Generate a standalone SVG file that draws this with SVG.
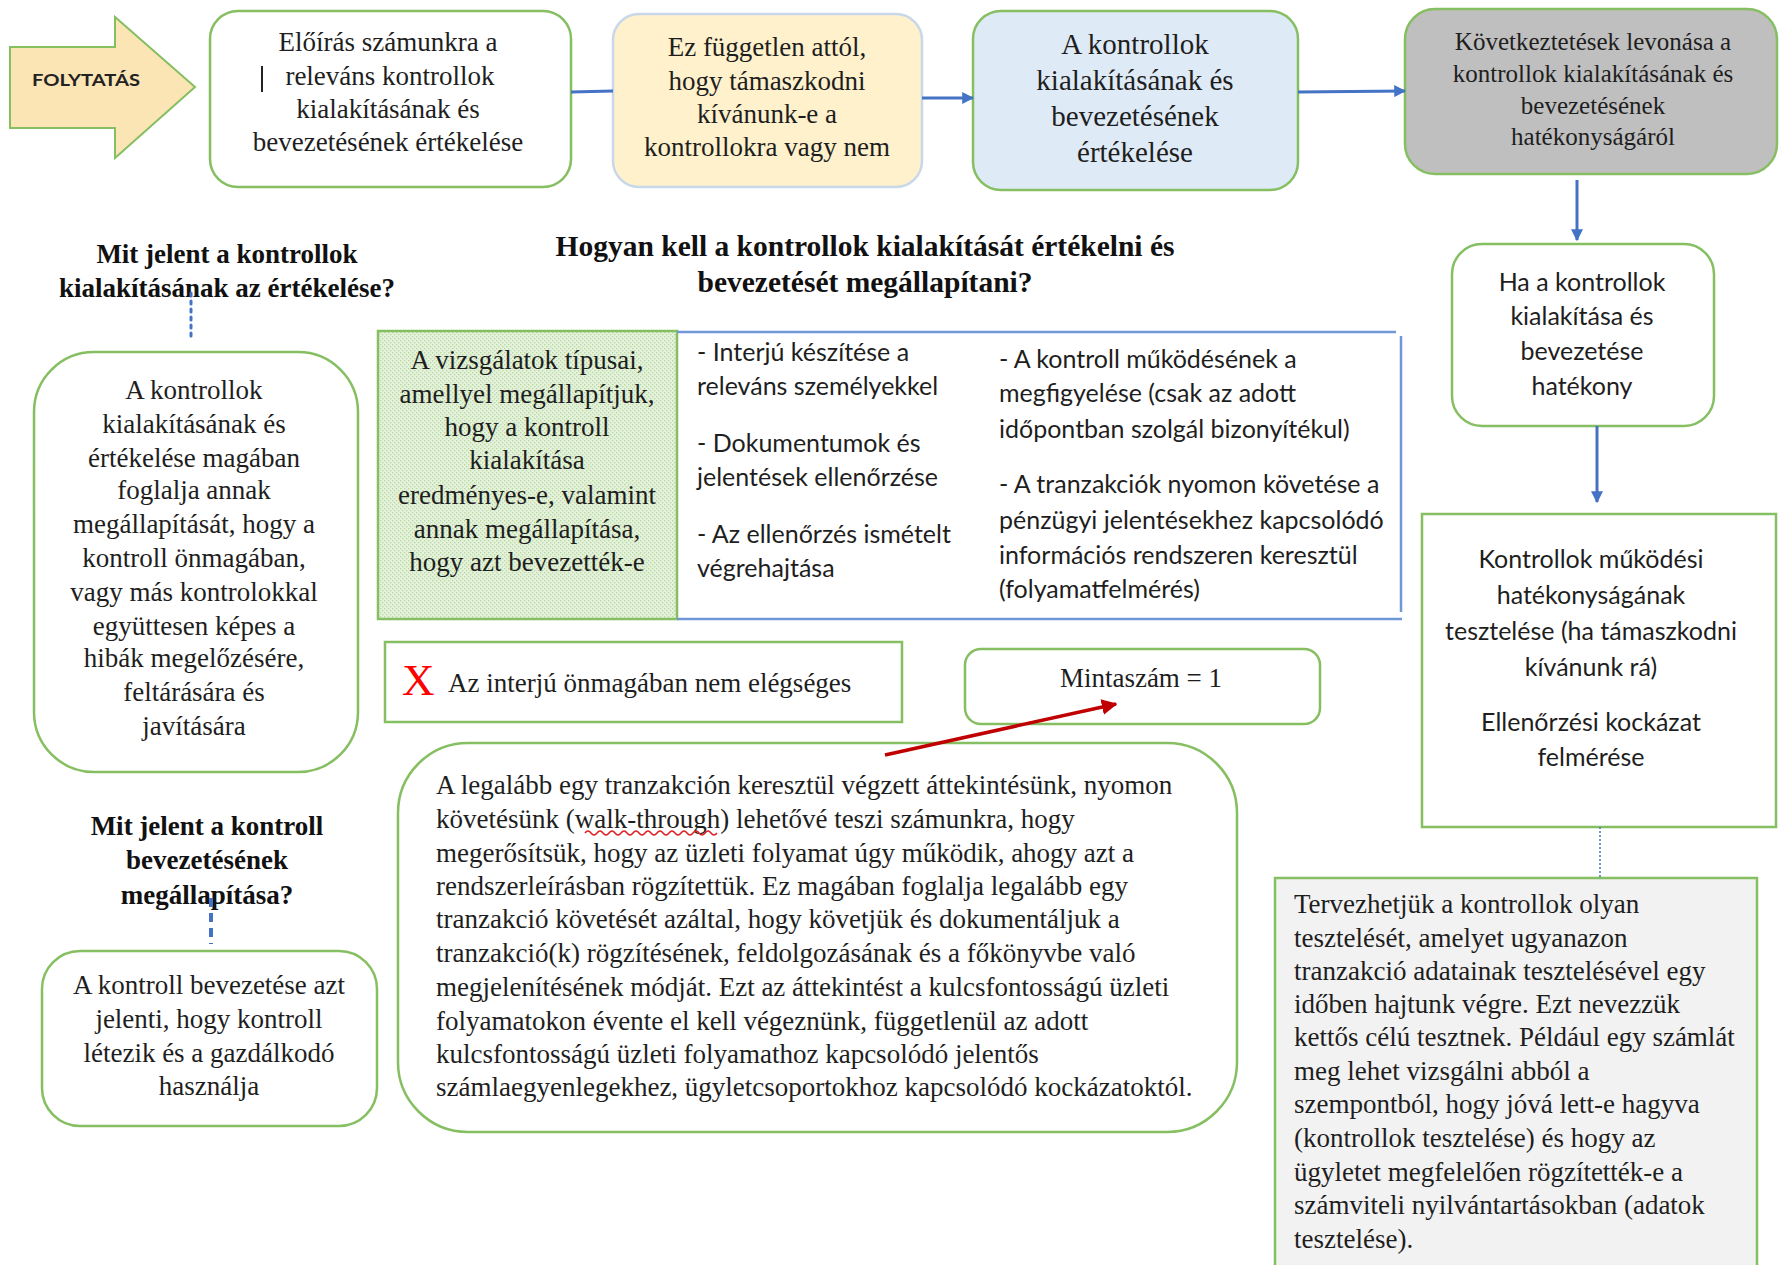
<svg xmlns="http://www.w3.org/2000/svg" width="1780" height="1265" viewBox="0 0 1780 1265">
  <defs>
    <style>
      .box { stroke: #86bf62; stroke-width: 2.5; }
      .sr { font-family: "Liberation Serif", "Times New Roman", serif; font-size: 27px; fill: #1e1e1e; }
      .sb { font-family: "Liberation Serif", "Times New Roman", serif; font-size: 27px; font-weight: bold; fill: #111; }
      .ss { font-family: Lato, "Liberation Sans", sans-serif; font-size: 25px; fill: #1e1e1e; }
      .mid { text-anchor: middle; }
      .conn { stroke: #4472c4; stroke-width: 3; fill: none; }
    </style>
    <marker id="ah" viewBox="0 0 10 10" refX="9" refY="5" markerWidth="4" markerHeight="4" orient="auto">
      <path d="M0,0 L10,5 L0,10 Z" fill="#4472c4"/>
    </marker>
    <marker id="ahRed" viewBox="0 0 10 10" refX="9" refY="5" markerWidth="4.5" markerHeight="4.5" orient="auto">
      <path d="M0,0 L10,5 L0,10 Z" fill="#c00000"/>
    </marker>
    <pattern id="hatch" width="4" height="4" patternUnits="userSpaceOnUse">
      <rect width="4" height="4" fill="#e4f1db"/>
      <rect x="0" y="0" width="1.3" height="1.3" fill="#b7d8a0"/>
      <rect x="2" y="2" width="1.3" height="1.3" fill="#b7d8a0"/>
    </pattern>
  </defs>

  <rect width="1780" height="1265" fill="#ffffff"/>

  <!-- start arrow -->
  <g id="folytatas">
    <path d="M10,47 L115,47 L115,17 L195,87 L115,158 L115,128 L10,128 Z" fill="#fce5b5" stroke="#86bf62" stroke-width="2"/>
    <text x="32" y="86" font-family="Lato, 'Liberation Sans', sans-serif" font-size="17" font-weight="bold" fill="#222" textLength="108" lengthAdjust="spacingAndGlyphs">FOLYTATÁS</text>
  </g>

  <g id="box-eloiras">
    <rect class="box" x="210" y="11" width="361" height="176" rx="28" fill="#ffffff"/>
    <line x1="262" y1="66" x2="262" y2="92" stroke="#222" stroke-width="2"/>
    <text class="sr mid" x="388" y="51">Előírás számunkra a</text>
    <text class="sr mid" x="390" y="85">releváns kontrollok</text>
    <text class="sr mid" x="388" y="118">kialakításának és</text>
    <text class="sr mid" x="388" y="151">bevezetésének értékelése</text>
  </g>

  <g id="box-fuggetlen">
    <rect x="613" y="14" width="309" height="173" rx="26" fill="#fff1cb" stroke="#c9d7ea" stroke-width="2.5"/>
    <text class="sr mid" x="767" y="56">Ez független attól,</text>
    <text class="sr mid" x="767" y="90">hogy támaszkodni</text>
    <text class="sr mid" x="767" y="123">kívánunk-e a</text>
    <text class="sr mid" x="767" y="156">kontrollokra vagy nem</text>
  </g>

  <g id="box-ertekeles">
    <rect class="box" x="973" y="11" width="325" height="179" rx="28" fill="#deeaf6"/>
    <text class="sr mid" style="font-size:29px" x="1135" y="54">A kontrollok</text>
    <text class="sr mid" style="font-size:29px" x="1135" y="90">kialakításának és</text>
    <text class="sr mid" style="font-size:29px" x="1135" y="126">bevezetésének</text>
    <text class="sr mid" style="font-size:29px" x="1135" y="162">értékelése</text>
  </g>

  <g id="box-kovetkeztetesek">
    <rect class="box" x="1405" y="9" width="372" height="165" rx="30" fill="#bfbfbf"/>
    <text class="sr mid" style="font-size:25px" x="1593" y="50">Következtetések levonása a</text>
    <text class="sr mid" style="font-size:25px" x="1593" y="82">kontrollok kialakításának és</text>
    <text class="sr mid" style="font-size:25px" x="1593" y="114">bevezetésének</text>
    <text class="sr mid" style="font-size:25px" x="1593" y="145">hatékonyságáról</text>
  </g>

  <g id="box-hatekony">
    <rect class="box" x="1452" y="244" width="262" height="182" rx="30" fill="#ffffff"/>
    <text class="ss mid" x="1582" y="291">Ha a kontrollok</text>
    <text class="ss mid" x="1582" y="325">kialakítása és</text>
    <text class="ss mid" x="1582" y="360">bevezetése</text>
    <text class="ss mid" x="1582" y="395">hatékony</text>
  </g>

  <g id="box-mukodesi">
    <rect class="box" x="1422" y="514" width="354" height="313" fill="#ffffff"/>
    <text class="ss mid" x="1591" y="568">Kontrollok működési</text>
    <text class="ss mid" x="1591" y="604">hatékonyságának</text>
    <text class="ss mid" x="1591" y="640">tesztelése (ha támaszkodni</text>
    <text class="ss mid" x="1591" y="676">kívánunk rá)</text>
    <text class="ss mid" x="1591" y="731">Ellenőrzési kockázat</text>
    <text class="ss mid" x="1591" y="766">felmérése</text>
  </g>

  <g id="box-kettos-celu">
    <rect class="box" x="1275" y="878" width="482" height="400" fill="#f2f2f2"/>
    <text class="sr" x="1294" y="913">Tervezhetjük a kontrollok olyan</text>
    <text class="sr" x="1294" y="947">tesztelését, amelyet ugyanazon</text>
    <text class="sr" x="1294" y="980">tranzakció adatainak tesztelésével egy</text>
    <text class="sr" x="1294" y="1013">időben hajtunk végre. Ezt nevezzük</text>
    <text class="sr" x="1294" y="1046">kettős célú tesztnek. Például egy számlát</text>
    <text class="sr" x="1294" y="1080">meg lehet vizsgálni abból a</text>
    <text class="sr" x="1294" y="1113">szempontból, hogy jóvá lett-e hagyva</text>
    <text class="sr" x="1294" y="1147">(kontrollok tesztelése) és hogy az</text>
    <text class="sr" x="1294" y="1181">ügyletet megfelelően rögzítették-e a</text>
    <text class="sr" x="1294" y="1214">számviteli nyilvántartásokban (adatok</text>
    <text class="sr" x="1294" y="1248">tesztelése).</text>
  </g>

  <g id="heading-kialakitas">
    <text class="sb mid" x="227" y="263">Mit jelent a kontrollok</text>
    <text class="sb mid" x="227" y="297">kialakításának az értékelése?</text>
  </g>

  <g id="box-kialakitas">
    <rect class="box" x="34" y="352" width="324" height="420" rx="60" fill="#ffffff"/>
    <text class="sr mid" x="194" y="399">A kontrollok</text>
    <text class="sr mid" x="194" y="433">kialakításának és</text>
    <text class="sr mid" x="194" y="467">értékelése magában</text>
    <text class="sr mid" x="194" y="499">foglalja annak</text>
    <text class="sr mid" x="194" y="533">megállapítását, hogy a</text>
    <text class="sr mid" x="194" y="567">kontroll önmagában,</text>
    <text class="sr mid" x="194" y="601">vagy más kontrolokkal</text>
    <text class="sr mid" x="194" y="635">együttesen képes a</text>
    <text class="sr mid" x="194" y="667">hibák megelőzésére,</text>
    <text class="sr mid" x="194" y="701">feltárására és</text>
    <text class="sr mid" x="194" y="735">javítására</text>
  </g>

  <g id="heading-bevezetes">
    <text class="sb mid" x="207" y="835">Mit jelent a kontroll</text>
    <text class="sb mid" x="207" y="869">bevezetésének</text>
    <text class="sb mid" x="207" y="904">megállapítása?</text>
  </g>

  <g id="box-bevezetes">
    <rect class="box" x="42" y="951" width="335" height="175" rx="38" fill="#ffffff"/>
    <text class="sr mid" x="209" y="994">A kontroll bevezetése azt</text>
    <text class="sr mid" x="209" y="1028">jelenti, hogy kontroll</text>
    <text class="sr mid" x="209" y="1062">létezik és a gazdálkodó</text>
    <text class="sr mid" x="209" y="1095">használja</text>
  </g>

  <g id="heading-hogyan">
    <text class="sb mid" style="font-size:29.5px" x="865" y="256">Hogyan kell a kontrollok kialakítását értékelni és</text>
    <text class="sb mid" style="font-size:29.5px" x="865" y="292">bevezetését megállapítani?</text>
  </g>

  <g id="box-vizsgalatok">
    <rect class="box" x="378" y="331" width="299" height="288" fill="url(#hatch)"/>
    <text class="sr mid" x="527" y="369">A vizsgálatok típusai,</text>
    <text class="sr mid" x="527" y="403">amellyel megállapítjuk,</text>
    <text class="sr mid" x="527" y="436">hogy a kontroll</text>
    <text class="sr mid" x="527" y="469">kialakítása</text>
    <text class="sr mid" x="527" y="504">eredményes-e, valamint</text>
    <text class="sr mid" x="527" y="538">annak megállapítása,</text>
    <text class="sr mid" x="527" y="571">hogy azt bevezették-e</text>
  </g>

  <g id="box-modszerek">
    <path d="M677,332 L1396,332" stroke="#7098d6" stroke-width="2.5" fill="none"/>
    <path d="M1401,336 L1401,612" stroke="#7098d6" stroke-width="2.5" fill="none"/>
    <path d="M677,619 L1402,619" stroke="#7098d6" stroke-width="2.5" fill="none"/>
    <text class="ss" x="697" y="361">- Interjú készítése a</text>
    <text class="ss" x="697" y="395">releváns személyekkel</text>
    <text class="ss" x="697" y="452">- Dokumentumok és</text>
    <text class="ss" x="697" y="486">jelentések ellenőrzése</text>
    <text class="ss" x="697" y="543">- Az ellenőrzés ismételt</text>
    <text class="ss" x="697" y="577">végrehajtása</text>
    <text class="ss" x="999" y="368">- A kontroll működésének a</text>
    <text class="ss" x="999" y="402">megfigyelése (csak az adott</text>
    <text class="ss" x="999" y="438">időpontban szolgál bizonyítékul)</text>
    <text class="ss" x="999" y="493">- A tranzakciók nyomon követése a</text>
    <text class="ss" x="999" y="529">pénzügyi jelentésekhez kapcsolódó</text>
    <text class="ss" x="999" y="564">információs rendszeren keresztül</text>
    <text class="ss" x="999" y="598">(folyamatfelmérés)</text>
  </g>

  <g id="box-interju">
    <rect class="box" x="385" y="642" width="517" height="80" fill="#ffffff"/>
    <text x="402" y="695" font-family="'Liberation Serif', serif" font-size="45" fill="#ff0000">X</text>
    <text class="sr" x="448" y="692">Az interjú önmagában nem elégséges</text>
  </g>

  <g id="box-mintaszam">
    <rect class="box" x="965" y="649" width="355" height="75" rx="16" fill="#ffffff"/>
    <text class="sr mid" x="1141" y="687">Mintaszám = 1</text>
  </g>

  <g id="box-walkthrough">
    <rect class="box" x="398" y="743" width="839" height="389" rx="70" fill="#ffffff"/>
    <text class="sr" x="436" y="794">A legalább egy tranzakción keresztül végzett áttekintésünk, nyomon</text>
    <text class="sr" x="436" y="828">követésünk (walk-through) lehetővé teszi számunkra, hogy</text>
    <text class="sr" x="436" y="862">megerősítsük, hogy az üzleti folyamat úgy működik, ahogy azt a</text>
    <text class="sr" x="436" y="895">rendszerleírásban rögzítettük. Ez magában foglalja legalább egy</text>
    <text class="sr" x="436" y="928">tranzakció követését azáltal, hogy követjük és dokumentáljuk a</text>
    <text class="sr" x="436" y="962">tranzakció(k) rögzítésének, feldolgozásának és a főkönyvbe való</text>
    <text class="sr" x="436" y="996">megjelenítésének módját. Ezt az áttekintést a kulcsfontosságú üzleti</text>
    <text class="sr" x="436" y="1030">folyamatokon évente el kell végeznünk, függetlenül az adott</text>
    <text class="sr" x="436" y="1063">kulcsfontosságú üzleti folyamathoz kapcsolódó jelentős</text>
    <text class="sr" x="436" y="1096">számlaegyenlegekhez, ügyletcsoportokhoz kapcsolódó kockázatoktól.</text>
    <path d="M585,833 q3,-4 6,0 t6,0 t6,0 t6,0 t6,0 t6,0 t6,0 t6,0 t6,0 t6,0 t6,0 t6,0 t6,0 t6,0 t6,0 t6,0 t6,0 t6,0 t6,0 t6,0 t6,0 t6,0" stroke="#e02020" stroke-width="1.5" fill="none"/>
  </g>

  <!-- connectors, drawn last so they sit on top of the boxes -->
  <g id="connectors">
    <path class="conn" d="M571,92 L613,91"/>
    <path class="conn" d="M922,98 L973,98" marker-end="url(#ah)"/>
    <path class="conn" d="M1298,92 L1405,91" marker-end="url(#ah)"/>
    <path class="conn" d="M1577,180 L1577,240" marker-end="url(#ah)"/>
    <path class="conn" d="M1597,426 L1597,502" stroke-width="2" marker-end="url(#ah)"/>
    <path d="M1600,827 L1600,878" stroke="#4472c4" stroke-width="1.5" stroke-dasharray="2 2" fill="none"/>
    <path d="M191,293 L191,341" stroke="#4472c4" stroke-width="3" stroke-dasharray="3 5" stroke-linecap="round" fill="none"/>
    <path d="M211,898 L211,944" stroke="#4472c4" stroke-width="4" stroke-dasharray="9 6" fill="none"/>
    <path d="M885,755 L1116,704" stroke="#c00000" stroke-width="3.5" fill="none" marker-end="url(#ahRed)"/>
  </g>
</svg>
